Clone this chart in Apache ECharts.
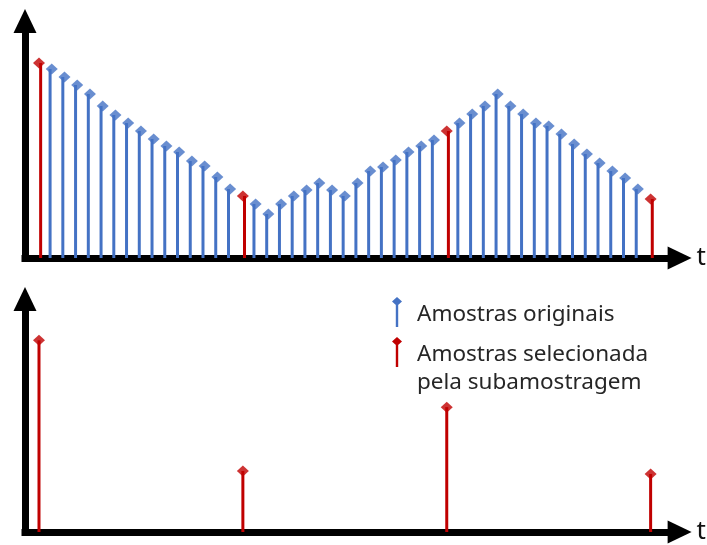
<!DOCTYPE html>
<html>
<head>
<meta charset="utf-8">
<script src="https://cdn.jsdelivr.net/npm/echarts@6/dist/echarts.min.js"></script>
<style>
  html, body { margin: 0; padding: 0; background: #fff; }
  #chart { width: 707px; height: 545px; }
</style>
</head>
<body>
<div id="chart"></div>
<script>
// Original samples (amplitude, arbitrary units), index 0..48
const samples = [195, 189, 181, 173, 164, 152, 143, 135, 127, 119, 112, 106, 97, 92, 81, 69, 62,
                 54, 44, 54, 62, 68, 75, 68, 62, 75, 87, 91, 98, 106, 112, 118, 127,
                 135, 144, 152, 164, 152, 144, 135, 132, 124, 114, 104, 95, 87, 80, 69, 59];
// Decimation factor: every 16th sample is kept
const step = 16;
const nameOriginal = 'Amostras originais';
const nameSelected = 'Amostras selecionada pela subamostragem';
const labelSelected = '\nAmostras selecionada\npela subamostragem';
const axisName = 't';

const blue = '#4472C4';
const red = '#C00000';

const originalPts = [];
const selectedPts = [];
samples.forEach((v, i) => {
  if (i % step === 0) selectedPts.push([i, v]);
  else originalPts.push([i, v]);
});

const chart = echarts.init(document.getElementById('chart'), null, { renderer: 'canvas' });

function xAxisCfg(gridIndex) {
  return {
    type: 'value', gridIndex: gridIndex, min: -1.098, max: 50.275,
    name: axisName, nameLocation: 'end', nameGap: 17,
    nameTextStyle: { fontSize: 26, color: '#111', fontFamily: 'Noto Sans', verticalAlign: 'middle', padding: [0, 0, 4, 0] },
    axisLine: { show: true, onZero: false, symbol: ['none', 'triangle'], symbolSize: [23, 24],
      lineStyle: { color: '#000', width: 7, cap: 'square' } },
    axisTick: { show: false }, axisLabel: { show: false }, splitLine: { show: false }
  };
}
function yAxisCfg(gridIndex) {
  return {
    type: 'value', gridIndex: gridIndex, min: 0, max: 237,
    axisLine: { show: true, onZero: false, symbol: ['none', 'triangle'], symbolSize: [23, 24],
      lineStyle: { color: '#000', width: 7, cap: 'square' } },
    axisTick: { show: false }, axisLabel: { show: false }, splitLine: { show: false }
  };
}

// stem-with-diamond legend icon; the tiny speck at (20,36) widens/extends the icon box
const stemIcon = 'path://M5,0L10,4.5L5,9L0,4.5Z M3.8,5L6.2,5L6.2,30L3.8,30Z M19.95,35.95L20,35.95L20,36Z';

const option = {
  backgroundColor: '#ffffff',
  animation: false,
  grid: [
    { left: 25, right: 27, top: 21, height: 237 },
    { left: 25, right: 27, top: 299, height: 237 }
  ],
  xAxis: [xAxisCfg(0), xAxisCfg(1)],
  yAxis: [yAxisCfg(0), yAxisCfg(1)],
  legend: {
    orient: 'vertical', left: 392, top: 297, padding: 0,
    itemWidth: 20, itemHeight: 36, itemGap: -20,
    icon: stemIcon,
    textStyle: { fontSize: 22.5, color: '#262626', fontFamily: 'Noto Sans', lineHeight: 28 },
    formatter: function (n) { return n === nameSelected ? labelSelected : n; },
    data: [nameOriginal, nameSelected],
    selectedMode: false
  },
  series: [
    { name: nameOriginal, type: 'bar', xAxisIndex: 0, yAxisIndex: 0, barWidth: 3,
      itemStyle: { color: blue }, data: originalPts, z: 2 },
    { name: nameOriginal, type: 'scatter', xAxisIndex: 0, yAxisIndex: 0, symbol: 'diamond', symbolSize: [12, 11],
      itemStyle: { color: blue }, data: originalPts, z: 3 },
    { name: nameSelected, type: 'bar', xAxisIndex: 0, yAxisIndex: 0, barWidth: 3,
      itemStyle: { color: red }, data: selectedPts, z: 2 },
    { name: nameSelected, type: 'scatter', xAxisIndex: 0, yAxisIndex: 0, symbol: 'diamond', symbolSize: [12, 11],
      itemStyle: { color: red }, data: selectedPts, z: 3 },
    { name: nameSelected, type: 'bar', xAxisIndex: 1, yAxisIndex: 1, barWidth: 3,
      itemStyle: { color: red }, data: selectedPts, z: 2 },
    { name: nameSelected, type: 'scatter', xAxisIndex: 1, yAxisIndex: 1, symbol: 'diamond', symbolSize: [12, 11],
      itemStyle: { color: red }, data: selectedPts, z: 3 }
  ]
};
chart.setOption(option);
</script>
</body>
</html>
